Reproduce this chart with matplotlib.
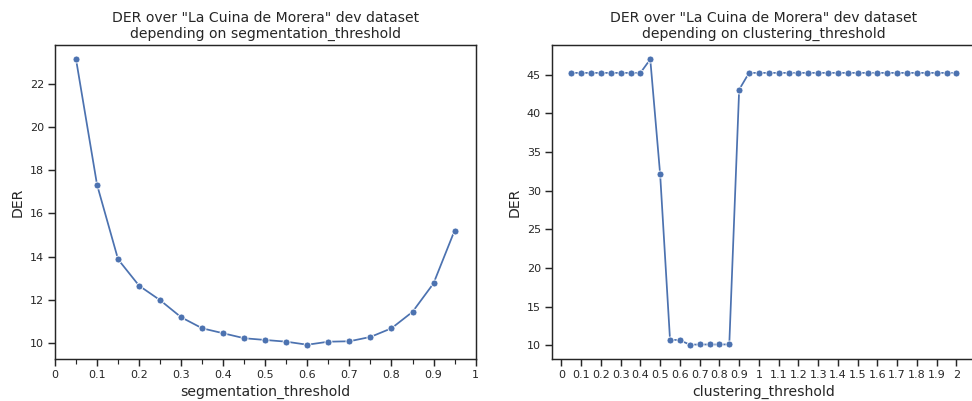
import numpy as np
import matplotlib
matplotlib.use('Agg')
import matplotlib.pyplot as plt
import seaborn as sns
from matplotlib.ticker import MultipleLocator, FuncFormatter

sns.set_theme(style='ticks', context='notebook')
plt.rcParams['xtick.labelsize'] = 9.5
plt.rcParams['ytick.labelsize'] = 9.5

# ── Data ──────────────────────────────────────────────────────────────
seg_thresholds = [0.05, 0.10, 0.15, 0.20, 0.25, 0.30, 0.35, 0.40, 0.45, 0.50,
                  0.55, 0.60, 0.65, 0.70, 0.75, 0.80, 0.85, 0.90, 0.95]
seg_der = [23.13, 17.32, 13.87, 12.65, 11.98, 11.19, 10.68, 10.45, 10.22, 10.14,
           10.06, 9.92, 10.06, 10.08, 10.28, 10.68, 11.44, 12.76, 15.20]

clu_thresholds = [0.05, 0.10, 0.15, 0.20, 0.25, 0.30, 0.35, 0.40, 0.45, 0.50,
                  0.55, 0.60, 0.65, 0.70, 0.75, 0.80, 0.85, 0.90, 0.95, 1.00,
                  1.05, 1.10, 1.15, 1.20, 1.25, 1.30, 1.35, 1.40, 1.45, 1.50,
                  1.55, 1.60, 1.65, 1.70, 1.75, 1.80, 1.85, 1.90, 1.95, 2.00]
clu_der = [45.21, 45.21, 45.21, 45.21, 45.21, 45.21, 45.21, 45.21, 46.97, 32.10,
           10.73, 10.69, 10.09, 10.12, 10.12, 10.12, 10.13, 43.05, 45.21, 45.21,
           45.21, 45.21, 45.21, 45.21, 45.21, 45.21, 45.21, 45.21, 45.21, 45.21,
           45.21, 45.21, 45.21, 45.21, 45.21, 45.21, 45.21, 45.21, 45.21, 45.21]

seg_ticks = np.round(np.arange(0, 1.01, 0.1), 2)
clu_ticks = np.round(np.arange(0, 2.01, 0.1), 2)

fmt = FuncFormatter(lambda v, _: f'{v:g}')

DPI = 84
fig = plt.figure(figsize=(972 / DPI, 401 / DPI), dpi=DPI)
ax1 = fig.add_axes([55 / 972, 42 / 401, 420.6 / 972, 314 / 401])
ax2 = fig.add_axes([552 / 972, 42 / 401, 423.7 / 972, 314 / 401])

# ── Left: segmentation threshold ─────────────────────────────────────
sns.lineplot(x=seg_thresholds, y=seg_der, marker='o', ax=ax1)
ax1.set_xlim(0, 1)
ax1.set_xticks(seg_ticks)
ax1.xaxis.set_major_formatter(fmt)
ax1.xaxis.set_minor_locator(MultipleLocator(0.05))
ax1.set_yticks([10, 12, 14, 16, 18, 20, 22])
ax1.set_xlabel('segmentation_threshold')
ax1.set_ylabel('DER')
ax1.set_title('DER over "La Cuina de Morera" dev dataset\n'
              'depending on segmentation_threshold', fontsize=12)

# ── Right: clustering threshold ──────────────────────────────────────
sns.lineplot(x=clu_thresholds, y=clu_der, marker='o', ax=ax2)
ax2.set_xticks(clu_ticks)
ax2.xaxis.set_major_formatter(fmt)
ax2.set_yticks([10, 15, 20, 25, 30, 35, 40, 45])
ax2.set_xlabel('clustering_threshold')
ax2.set_ylabel('DER')
ax2.set_title('DER over "La Cuina de Morera" dev dataset\n'
              'depending on clustering_threshold', fontsize=12)

fig.savefig('out.png', dpi=DPI)
